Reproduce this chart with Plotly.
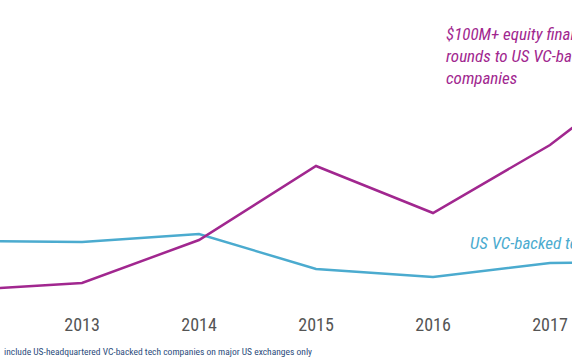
import plotly.graph_objects as go

years = [2012, 2013, 2014, 2015, 2016, 2017, 2018]
big_rounds = [22, 29, 72, 146, 99, 167, 257]
tech_ipos = [71, 70, 78, 43, 35, 49, 50]
tick_years = [2013, 2014, 2015, 2016, 2017]
tick_labels = ["2013", "2014", "2015", "2016", "2017"]

MAGENTA = "#A1278F"
CYAN = "#4BABCF"
FONT = "Roboto Condensed, Liberation Sans Narrow, DejaVu Sans Condensed, Roboto, sans-serif"

fig = go.Figure()
fig.add_trace(go.Scatter(x=years, y=tech_ipos, mode="lines",
                         line=dict(color=CYAN, width=2.5), hoverinfo="skip"))
fig.add_trace(go.Scatter(x=years, y=big_rounds, mode="lines",
                         line=dict(color=MAGENTA, width=2.5), hoverinfo="skip"))

fig.add_annotation(x=2016.094, y=290, xref="x", yref="y", xanchor="left", yanchor="top",
                   text="$100M+ equity financing<br>rounds to US VC-backed<br>companies",
                   showarrow=False, align="left",
                   font=dict(family=FONT, size=17, color=MAGENTA, style="italic"))
fig.add_annotation(x=2016.299, y=69, xref="x", yref="y", xanchor="left", yanchor="middle",
                   text="US VC-backed tech IPOs",
                   showarrow=False, align="left",
                   font=dict(family=FONT, size=17, color=CYAN, style="italic"))
fig.add_annotation(x=0.004, y=-0.125, xref="paper", yref="paper", xanchor="left", yanchor="middle",
                   text="include US-headquartered VC-backed tech companies on major US exchanges only",
                   showarrow=False, align="left",
                   font=dict(family=FONT, size=9.5, color="#2C4C7C"))

fig.update_layout(
    width=572, height=364,
    margin=dict(l=0, r=0, t=0, b=52),
    paper_bgcolor="white", plot_bgcolor="white",
    showlegend=False,
    xaxis=dict(range=[2012.299, 2017.188], tickvals=tick_years, ticktext=tick_labels,
               showgrid=False, zeroline=False, showline=False, ticks="",
               tickfont=dict(family=FONT, size=18, color="#555555")),
    yaxis=dict(range=[0, 312], visible=False),
)
fig.write_html("out.html", config={"displayModeBar": False},
               post_script="document.body.style.margin='0';")
